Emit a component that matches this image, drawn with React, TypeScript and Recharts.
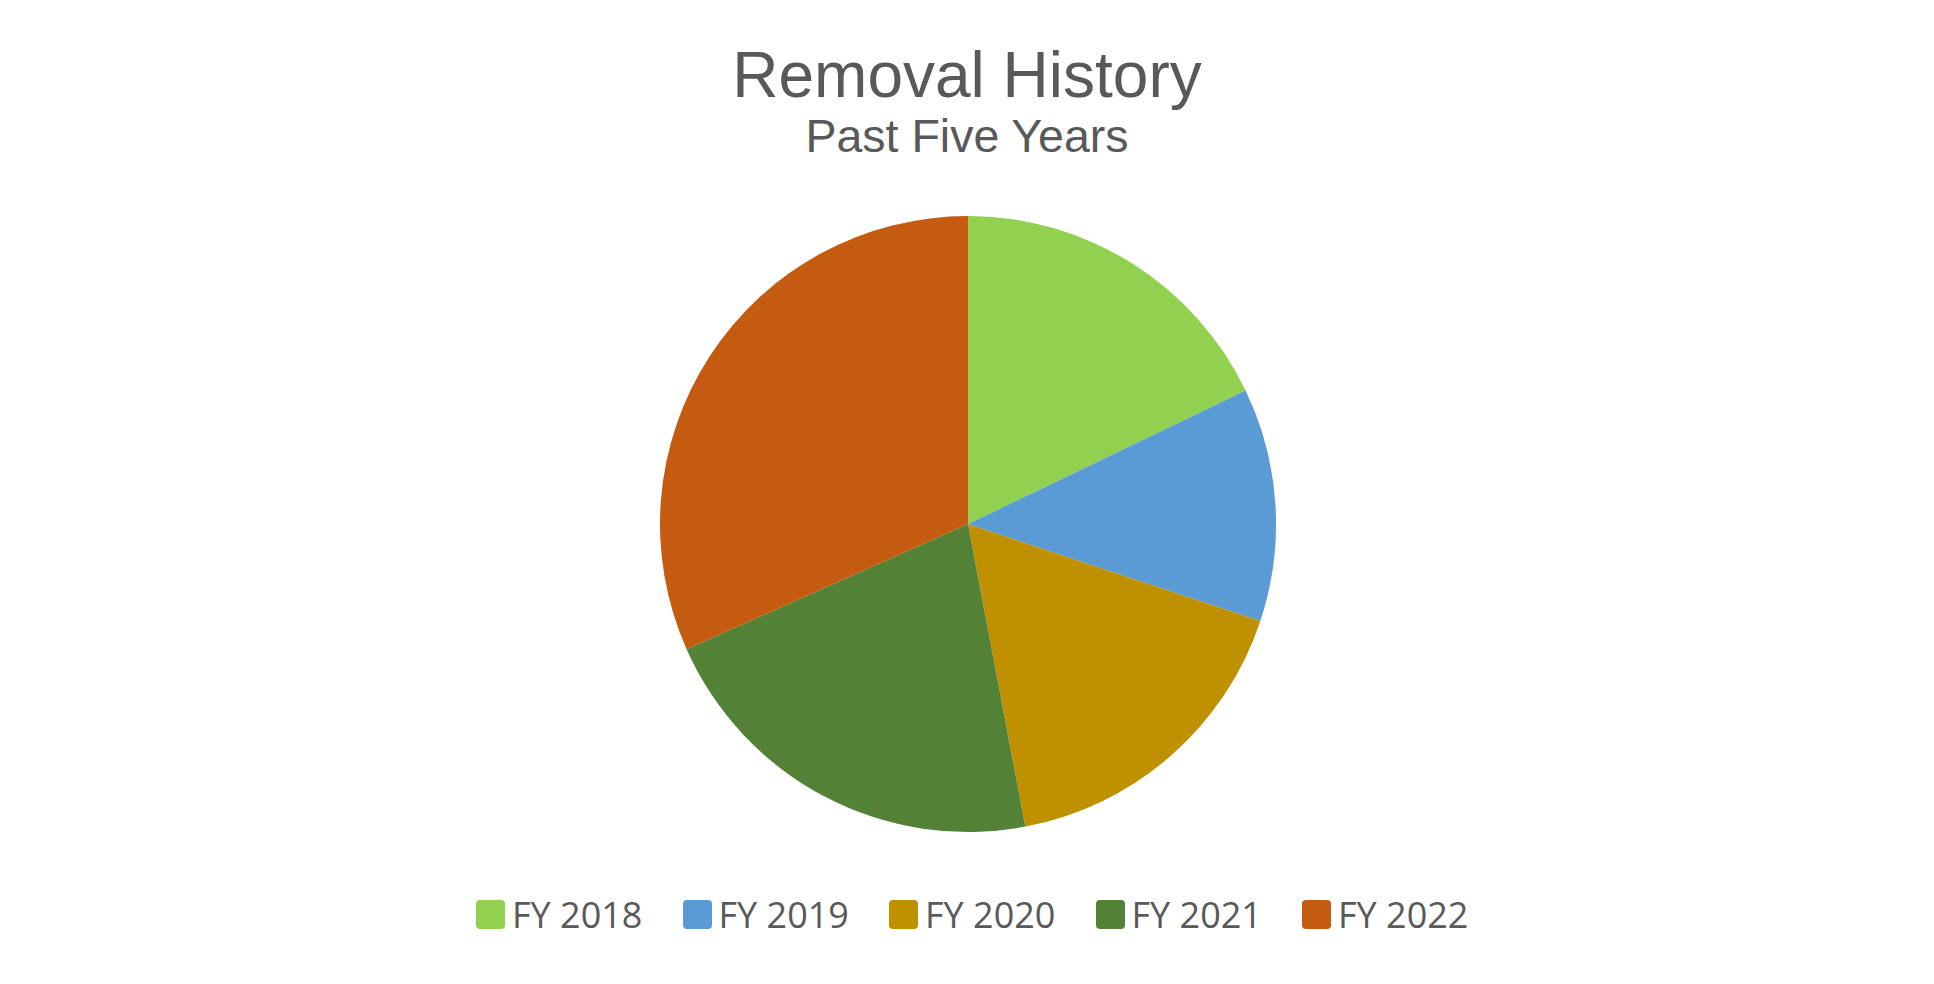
import React from "react";
import { PieChart, Pie, Cell, Legend } from "recharts";

const categories = ["FY 2018", "FY 2019", "FY 2020", "FY 2021", "FY 2022"];
const removals = [57, 39, 54, 68, 101];
const colors = ["#92D050", "#5B9BD5", "#BF9000", "#538135", "#C55A11"];
const titleText = "Removal History";
const subtitleText = "Past Five Years";

const data = categories.map((name, i) => ({ name, value: removals[i] }));

const TEXT = "#595959";

const renderLegend = (props: any) => {
  const payload = props.payload || [];
  return (
    <div style={{ display: "flex", flexDirection: "row", marginLeft: 476 }}>
      {payload.map((entry: any, i: number) => (
        <div
          key={i}
          style={{ display: "flex", alignItems: "center", width: 206.5, height: 29 }}
        >
          <div
            style={{
              width: 29,
              height: 29,
              borderRadius: 4,
              background: entry.color,
              marginRight: 7,
              flexShrink: 0,
            }}
          />
          <span
            style={{
              fontFamily: "'Open Sans', sans-serif",
              fontSize: 36,
              lineHeight: "29px",
              color: TEXT,
              whiteSpace: "nowrap",
            }}
          >
            {entry.value}
          </span>
        </div>
      ))}
    </div>
  );
};

export default function App() {
  return (
    <div style={{ position: "absolute", left: 0, top: 0, width: 1934, height: 984, background: "#fff" }}>
      <div
        style={{
          position: "absolute",
          left: 0,
          width: 1934,
          top: 43,
          textAlign: "center",
          fontFamily: "'Liberation Sans', Arial, sans-serif",
          fontSize: 64,
          lineHeight: "64px",
          color: TEXT,
        }}
      >
        {titleText}
      </div>
      <div
        style={{
          position: "absolute",
          left: 0,
          width: 1934,
          top: 113,
          textAlign: "center",
          fontFamily: "'Liberation Sans', Arial, sans-serif",
          fontSize: 46.5,
          lineHeight: "46.5px",
          color: TEXT,
        }}
      >
        {subtitleText}
      </div>
      <PieChart width={1934} height={984} style={{ position: "absolute", left: 0, top: 0 }}>
        <Pie
          data={data}
          dataKey="value"
          nameKey="name"
          cx={963}
          cy={519}
          outerRadius={308}
          startAngle={90}
          endAngle={-270}
          stroke="none"
          isAnimationActive={false}
        >
          {data.map((d, i) => (
            <Cell key={d.name} fill={colors[i]} />
          ))}
        </Pie>
        <Legend
          content={renderLegend}
          wrapperStyle={{ left: 0, top: 900, width: 1934 }}
        />
      </PieChart>
    </div>
  );
}
